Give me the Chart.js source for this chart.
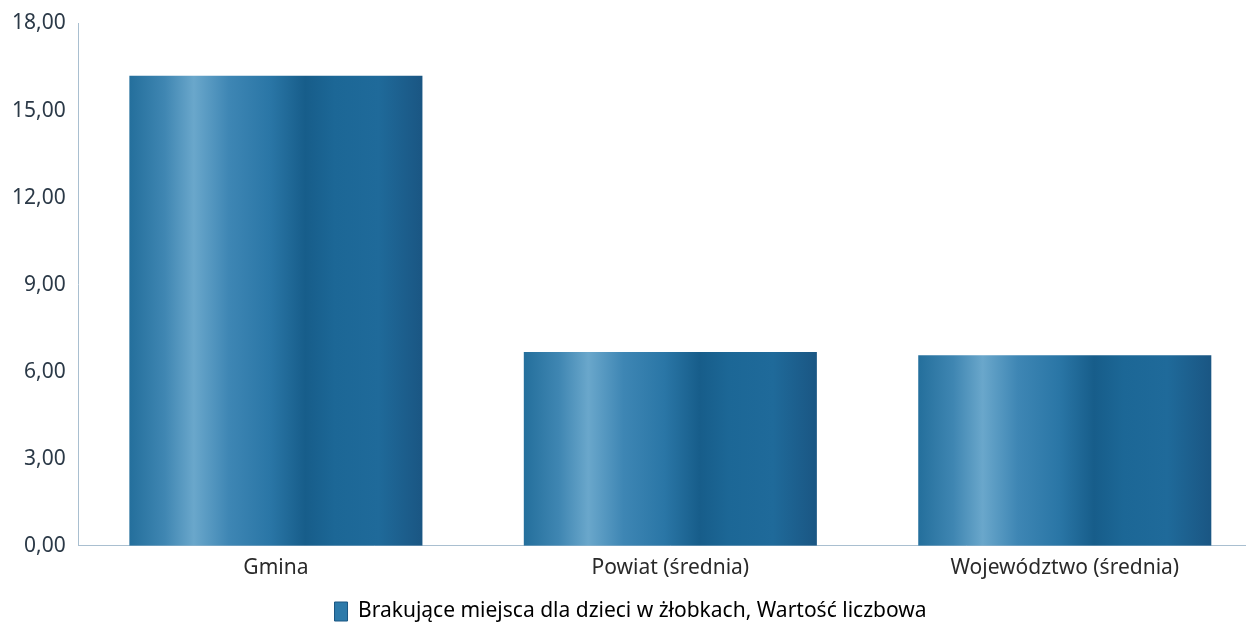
<!DOCTYPE html>
<html>
<head>
<meta charset="utf-8">
<script src="https://cdn.jsdelivr.net/npm/chart.js@4.4.0/dist/chart.umd.min.js"></script>
<style>
  html, body { margin: 0; padding: 0; background: #fff; overflow: hidden; }
  #wrap { width: 1262px; height: 627px; position: relative; }
</style>
</head>
<body>
<div id="wrap"><canvas id="grafico"></canvas></div>
<script>
// Datos
const categorias = ['Gmina', 'Powiat (średnia)', 'Województwo (średnia)'];
const valores = [16.2, 6.68, 6.57];
const serie = 'Brakujące miejsca dla dzieci w żłobkach, Wartość liczbowa';

// degradado horizontal de cada barra
function colorBarra(context) {
  const chart = context.chart;
  const x = chart.scales && chart.scales.x;
  if (!chart.chartArea || !x || context.dataIndex === undefined) return '#1f6a98';
  const centro = x.getPixelForValue(context.dataIndex);
  const ancho = (x.width / categorias.length) * 0.743;
  const izq = centro - ancho / 2;
  const g = chart.ctx.createLinearGradient(izq, 0, izq + ancho, 0);
  g.addColorStop(0, '#246f9c');
  g.addColorStop(0.12, '#3f86b2');
  g.addColorStop(0.22, '#6aa7cb');
  g.addColorStop(0.34, '#3e86b4');
  g.addColorStop(0.48, '#2a76a6');
  g.addColorStop(0.6, '#175d8a');
  g.addColorStop(0.7, '#1c6796');
  g.addColorStop(0.85, '#1f6a9a');
  g.addColorStop(1, '#1a5683');
  return g;
}

const ctx = document.getElementById('grafico').getContext('2d');
new Chart(ctx, {
  type: 'bar',
  data: {
    labels: categorias,
    datasets: [{
      label: serie,
      data: valores,
      backgroundColor: colorBarra,
      borderWidth: 0,
      barPercentage: 0.743,
      categoryPercentage: 1
    }]
  },
  options: {
    responsive: true,
    maintainAspectRatio: false,
    animation: false,
    layout: { padding: { top: 0, left: -1, right: 0, bottom: -5 } },
    plugins: {
      tooltip: { enabled: false },
      legend: {
        position: 'bottom',
        labels: {
          font: { family: 'Noto Sans', size: 21 },
          color: '#2a2a2a',
          boxWidth: 13,
          boxHeight: 19,
          padding: 10,
          generateLabels: (chart) => [{
            text: serie,
            fillStyle: '#2d7aaa',
            strokeStyle: '#1a5683',
            lineWidth: 1,
            datasetIndex: 0
          }]
        }
      }
    },
    scales: {
      x: {
        grid: { display: false, drawTicks: false },
        border: { display: true, color: '#a9bfd0', width: 1 },
        ticks: {
          font: { family: 'Noto Sans', size: 21 },
          color: '#2a2a2a',
          padding: 10
        }
      },
      y: {
        min: 0,
        max: 18,
        grid: { display: false, drawTicks: false },
        border: { display: true, color: '#a9bfd0', width: 1 },
        ticks: {
          stepSize: 3,
          font: { family: 'Noto Sans', size: 21, lineHeight: 1 },
          color: '#2b3947',
          padding: 13,
          callback: (v) => v.toFixed(2).replace('.', ',')
        }
      }
    }
  }
});
</script>
</body>
</html>
